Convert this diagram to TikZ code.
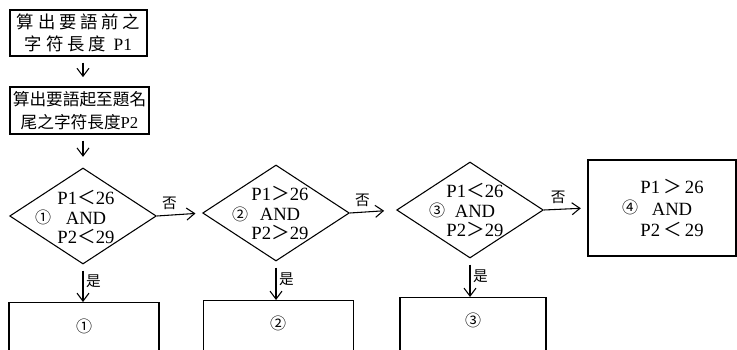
\documentclass[tikz,border=0pt]{standalone}
\usepackage{fontspec}
\setmainfont{Liberation Serif}
\newfontfamily\cjk{Noto Sans CJK TC}
\usetikzlibrary{shapes.geometric,arrows.meta}
\newcommand\lessc{{\cjk ＜}}
\newcommand\morec{{\cjk ＞}}

\begin{document}
\begin{tikzpicture}[x=0.75pt,y=0.75pt,yscale=-1,xscale=1,
  box/.style={draw,line width=0.8pt,inner sep=0pt,align=center},
  cond/.style={draw,shape=diamond,line width=0.8pt,inner sep=0pt,minimum width=110pt,minimum height=72pt},
  arr/.style={line width=0.8pt,-{Straight Barb[length=6pt,width=9pt]}},
  lbl/.style={font=\cjk\fontsize{11}{12}\selectfont,inner sep=1pt},
  expr/.style={align=center,inner sep=0pt,font=\fontsize{14}{14.5}\selectfont},
  num/.style={font=\cjk\fontsize{12}{12}\selectfont}]

\useasboundingbox (0,0) rectangle (737,349);

% steps
\node[box,minimum width=102.75pt,minimum height=34.5pt,font=\cjk\fontsize{13}{16}\selectfont] (len1) at (78.5,33) {算 出 要 語 前 之\\字 符 長 度 \ {\rmfamily P1}};
\node[box,minimum width=104.25pt,minimum height=35.25pt,font=\cjk\fontsize{12.5}{17}\selectfont] (len2) at (79.5,110.5) {算出要語起至題名\\尾之字符長度{\rmfamily P2}};

% tests
\node[cond] (test1) at (83,216) {};
\node[num] at (43,217) {①};
\node[expr] at (86,217) {P1\lessc26\\AND\\P2\lessc29};

\node[cond] (test2) at (276,213) {};
\node[num] at (240,214) {②};
\node[expr] at (280,213) {P1\morec26\\AND\\P2\morec29};

\node[cond] (test3) at (470,210) {};
\node[num] at (437,210) {③};
\node[expr] at (475,210) {P1\lessc26\\AND\\P2\morec29};

\node[box,minimum width=111pt,minimum height=72pt] (case4) at (662,208) {};
\node[num] at (630,207) {④};
\node[expr,font=\fontsize{14}{16}\selectfont] at (672,208) {P1\,\morec\,26\\AND\\P2\,\lessc\,29};

% results
\node[box,anchor=north,minimum width=112.5pt,minimum height=60pt] (case1) at (84,302) {};
\node[num] at (84,326) {①};
\node[box,anchor=north,minimum width=112pt,minimum height=60pt] (case2) at (278.5,300) {};
\node[num] at (278,323) {②};
\node[box,anchor=north,minimum width=109.5pt,minimum height=60pt] (case3) at (473,297) {};
\node[num] at (473,320) {③};

% connectors
\draw[arr,shorten <=4.5pt,shorten >=7pt] (len1.south -| test1) -- (len2.north -| test1);
\draw[arr,shorten <=4.5pt,shorten >=8pt] (len2.south -| test1) -- (test1.north);
\draw[arr,shorten >=5pt] (test1.east) -- (test2.west) node[lbl,pos=0.28,above=3pt] {否};
\draw[arr,shorten >=9pt] (test2.east) -- (test3.west) node[lbl,pos=0.27,above=3pt] {否};
\draw[arr,shorten >=5pt] (test3.east) -- (case4.west) node[lbl,pos=0.33,above=3pt] {否};
\draw[arr,shorten <=4.5pt] (test1.south) -- (test1.south |- case1.north) node[lbl,pos=0.45,right=1pt] {是};
\draw[arr,shorten <=4.5pt] (test2.south) -- (test2.south |- case2.north) node[lbl,pos=0.45,right=1pt] {是};
\draw[arr,shorten <=4.5pt] (test3.south) -- (test3.south |- case3.north) node[lbl,pos=0.45,right=1pt] {是};

\end{tikzpicture}
\end{document}
